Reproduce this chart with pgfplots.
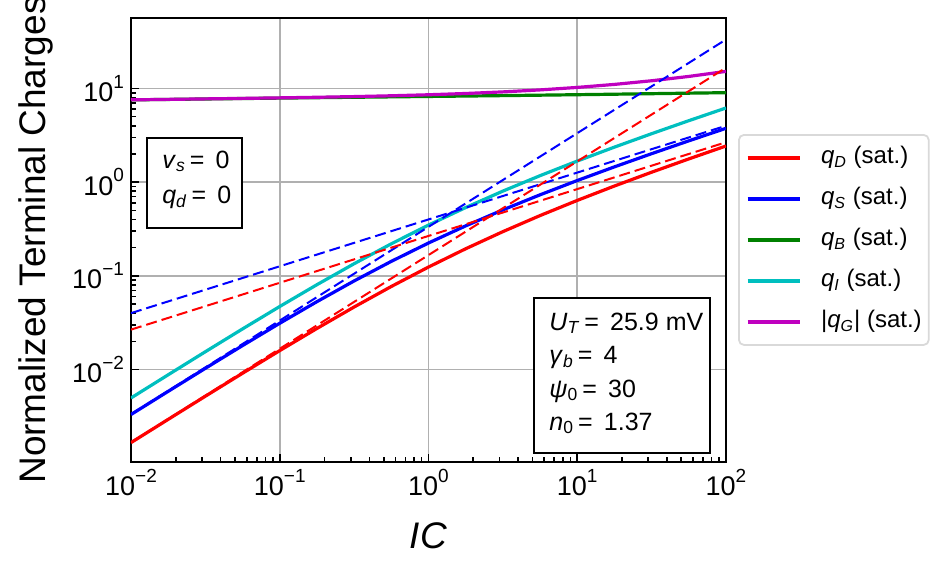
\documentclass[border=0pt]{standalone}
\usepackage{fontspec}
\setmainfont{Liberation Sans}
\usepackage{pgfplots}
\usepackage{pgfplotstable}
\pgfplotsset{compat=1.18}
\definecolor{mpcyan}{rgb}{0,0.75,0.75}
\definecolor{mpmag}{rgb}{0.75,0,0.75}
\definecolor{mpgreen}{rgb}{0,0.5,0}
\definecolor{gridgray}{HTML}{B0B0B0}
\newcommand{\tk}[1]{10\raisebox{0.5em}{\fontsize{9.5}{10}\selectfont #1}}

\pgfplotstableread{
IC qD qS qB qI qG
0.01 0.0016584 0.0033088 7.5556 0.0049672 7.5606
0.017783 0.0029381 0.0058508 7.6409 0.0087889 7.6497
0.031623 0.0051901 0.0103029 7.7252 0.015493 7.7406
0.056234 0.009125 0.0180179 7.8086 0.0271429 7.8357
0.1 0.0159195 0.0311658 7.8912 0.0470853 7.9383
0.17783 0.027441 0.05303 7.9731 0.080471 8.0536
0.31623 0.0464928 0.0882304 8.0546 0.1347232 8.1893
0.56234 0.0770088 0.1427947 8.1360 0.2198035 8.3558
1 0.12418 0.224181 8.2182 0.348361 8.5665
1.7783 0.194572 0.341496 8.3021 0.536068 8.8382
3.1623 0.296373 0.506121 8.3894 0.802494 9.1918
5.6234 0.439928 0.732756 8.4814 1.172684 9.6540
10 0.638555 1.040847 8.5795 1.679402 10.2589
17.783 0.909745 1.456373 8.6845 2.366118 11.0506
31.623 1.276745 2.014107 8.7957 3.290852 12.0865
56.234 1.770536 2.760652 8.9097 4.531188 13.4409
100 2.432522 3.758328 9.0191 6.19085 15.2099
}\datatable

\begin{document}
\begin{tikzpicture}
\begin{axis}[
  at={(0,0)}, anchor=south west,
  scale only axis, width=297.5pt, height=222pt,
  xmode=log, ymode=log,
  xmin=0.01, xmax=100, ymin=1.03e-3, ymax=56.5,
  xtick={0.01,0.1,1,10,100},
  xticklabels={\tk{−2},\tk{−1},\tk{0},\tk{1},\tk{2}},
  ytick={0.01,0.1,1,10},
  yticklabels={\tk{−2},\tk{−1},\tk{0},\tk{1}},
  tick align=inside, tick pos=left,
  major tick length=4pt, minor tick length=2.5pt,
  every tick/.style={black, line width=0.8pt},
  grid=major, major grid style={gridgray, line width=0.8pt},
  axis line style={line width=1.1pt},
  ticklabel style={font=\fontsize{13.5}{15}\selectfont},
  xlabel={\textit{IC}},
  ylabel={Normalized Terminal Charges},
  every axis x label/.style={at={(axis description cs:0.5,-0.1937)}, anchor=base, font=\fontsize{18.5}{22}\selectfont},
  every axis y label/.style={at={(axis description cs:-0.1445,0.5)}, rotate=90, anchor=base, font=\fontsize{18.5}{22}\selectfont},
  legend style={at={(rel axis cs:1.0202,0.7387)}, anchor=north west,
    draw=black!15, line width=0.9pt, rounded corners=2.5pt,
    font=\fontsize{12}{14}\selectfont,
    inner xsep=3.5pt, inner ysep=5.5pt, row sep=8.5pt, column sep=10pt,
    nodes={inner sep=0pt, text height=9pt, text depth=3pt},
    cells={anchor=west}},
  legend image code/.code={\draw[#1, line width=1.6pt, rounded corners=0pt] (0pt,0pt) -- (26pt,0pt);},
  legend entries={
    \textit{q}\textsubscript{\textit{D}} (sat.),
    \textit{q}\textsubscript{\textit{S}} (sat.),
    \textit{q}\textsubscript{\textit{B}} (sat.),
    \textit{q}\textsubscript{\textit{I}} (sat.),
    |\textit{q}\textsubscript{\textit{G}}| (sat.)},
]
\addplot[red, line width=1.6pt, no marks] table[x=IC, y=qD] {\datatable};
\addplot[blue, line width=1.6pt, no marks] table[x=IC, y=qS] {\datatable};
\addplot[mpgreen, line width=1.6pt, no marks] table[x=IC, y=qB] {\datatable};
\addplot[mpcyan, line width=1.6pt, no marks] table[x=IC, y=qI] {\datatable};
\addplot[mpmag, line width=1.6pt, no marks] table[x=IC, y=qG] {\datatable};
% asymptotes
\addplot[blue, line width=1pt, dash pattern=on 5.5pt off 2.5pt, forget plot] coordinates {(0.01,0.0033333) (100,33.3333)};
\addplot[blue, line width=1pt, dash pattern=on 5.5pt off 2.5pt, forget plot] coordinates {(0.01,0.04) (100,4)};
\addplot[red, line width=1pt, dash pattern=on 5.5pt off 2.5pt, forget plot] coordinates {(0.01,0.0016667) (100,16.6667)};
\addplot[red, line width=1pt, dash pattern=on 5.5pt off 2.5pt, forget plot] coordinates {(0.01,0.026667) (100,2.66667)};
% annotation boxes
\draw[line width=1pt, fill=white] (rel axis cs:0.027,0.527) rectangle (rel axis cs:0.1866,0.730);
\node[anchor=base west, inner sep=0pt, font=\fontsize{12.5}{15}\selectfont] at (rel axis cs:0.052,0.662) {\textit{v}\textsubscript{\textit{s}}\,= \,0};
\node[anchor=base west, inner sep=0pt, font=\fontsize{12.5}{15}\selectfont] at (rel axis cs:0.052,0.583) {\textit{q}\textsubscript{\textit{d}}\,= \,0};
\draw[line width=1pt, fill=white] (rel axis cs:0.677,0.020) rectangle (rel axis cs:0.973,0.369);
\node[anchor=base west, inner sep=0pt, font=\fontsize{12.5}{15}\selectfont] at (rel axis cs:0.7025,0.2973) {\textit{U}\textsubscript{\textit{T}}\,= \,25.9 mV};
\node[anchor=base west, inner sep=0pt, font=\fontsize{12.5}{15}\selectfont] at (rel axis cs:0.7025,0.2230) {\textit{γ}\textsubscript{\textit{b}}\,= \,4};
\node[anchor=base west, inner sep=0pt, font=\fontsize{12.5}{15}\selectfont] at (rel axis cs:0.7025,0.1464) {\textit{ψ}\textsubscript{0}\,= \,30};
\node[anchor=base west, inner sep=0pt, font=\fontsize{12.5}{15}\selectfont] at (rel axis cs:0.7025,0.0721) {\textit{n}\textsubscript{0}\,= \,1.37};
\end{axis}
\pgfresetboundingbox
\useasboundingbox (-65.5pt,-56.5pt) rectangle (407pt,231pt);
\end{tikzpicture}
\end{document}
